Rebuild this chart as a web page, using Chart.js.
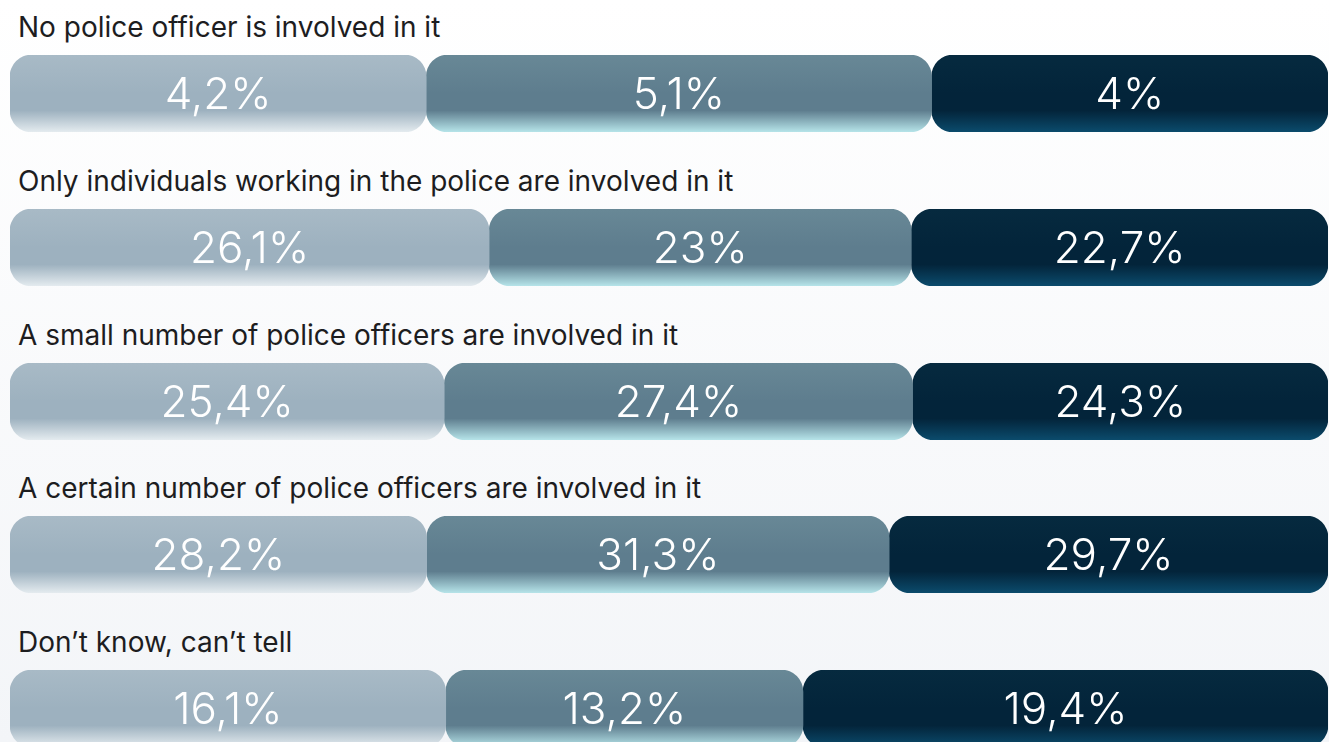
<!DOCTYPE html>
<html>
<head>
<meta charset="utf-8">
<script src="https://cdn.jsdelivr.net/npm/chart.js@4/dist/chart.umd.min.js"></script>
<style>
  html, body { margin: 0; padding: 0; }
  body {
    width: 1329px; height: 742px; overflow: hidden; position: relative;
    background: linear-gradient(#ffffff, #f3f5f8);
    font-family: Inter, "Noto Sans", sans-serif;
  }
  .lbl { position: absolute; left: 18px; font-size: 28px; line-height: 30px; color: #1d1d1f; white-space: nowrap; }
  .row { position: absolute; left: 0; width: 1329px; height: 77px; }
</style>
</head>
<body>
<script>
// answers, one row each
var categories = [
  'No police officer is involved in it',
  'Only individuals working in the police are involved in it',
  'A small number of police officers are involved in it',
  'A certain number of police officers are involved in it',
  'Don\u2019t know, can\u2019t tell'
];
// three groups, values in %
var series1 = [4.2, 26.1, 25.4, 28.2, 16.1];
var series2 = [5.1, 23, 27.4, 31.3, 13.2];
var series3 = [4, 22.7, 24.3, 29.7, 19.4];

// top / middle / bottom colours of each segment
var palettes = [
  ['#a8bac6', '#9db1bf', '#e4ebef'],
  ['#688896', '#5e7d8e', '#b6e4e9'],
  ['#062a3f', '#03243a', '#0b4b6c']
];

function grad(ctx, p) {
  var area = ctx.chart.chartArea;
  if (!area) return p[1];
  var g = ctx.chart.ctx.createLinearGradient(0, area.top, 0, area.bottom);
  g.addColorStop(0, p[0]);
  g.addColorStop(0.5, p[1]);
  g.addColorStop(0.72, p[1]);
  g.addColorStop(1, p[2]);
  return g;
}

// write the value in the middle of each segment
var valueLabels = {
  id: 'valueLabels',
  afterDatasetsDraw: function (chart) {
    var c = chart.ctx;
    c.save();
    c.fillStyle = '#ffffff';
    c.font = '300 44px Inter, "Noto Sans", sans-serif';
    c.textAlign = 'center';
    c.textBaseline = 'middle';
    chart.data.datasets.forEach(function (ds, i) {
      chart.getDatasetMeta(i).data.forEach(function (el, j) {
        var txt = String(ds.data[j]).replace('.', ',') + '%';
        c.fillText(txt, (el.x + el.base) / 2, el.y + 2);
      });
    });
    c.restore();
  }
};

var rowStep = 153.8;
var allSeries = [series1, series2, series3];
var r = 22;

categories.forEach(function (cat, i) {
  var lbl = document.createElement('div');
  lbl.className = 'lbl';
  lbl.style.top = (12 + rowStep * i) + 'px';
  lbl.textContent = cat;
  document.body.appendChild(lbl);

  var wrap = document.createElement('div');
  wrap.className = 'row';
  wrap.style.top = (55 + rowStep * i) + 'px';
  var cv = document.createElement('canvas');
  wrap.appendChild(cv);
  document.body.appendChild(wrap);

  var total = series1[i] + series2[i] + series3[i];
  var datasets = allSeries.map(function (s, k) {
    return {
      data: [s[i]],
      backgroundColor: function (ctx) { return grad(ctx, palettes[k]); },
      // object form so every segment gets all four corners rounded
      borderRadius: { topLeft: r, topRight: r, bottomLeft: r, bottomRight: r },
      borderSkipped: false,
      borderWidth: 0,
      barPercentage: 1,
      categoryPercentage: 1
    };
  });

  new Chart(cv, {
    type: 'bar',
    data: { labels: [cat], datasets: datasets },
    options: {
      indexAxis: 'y',
      responsive: true,
      maintainAspectRatio: false,
      animation: false,
      layout: { padding: { left: 10, right: 1, top: 0, bottom: 0 } },
      plugins: { legend: { display: false }, tooltip: { enabled: false } },
      scales: {
        x: { display: false, stacked: true, min: 0, max: total },
        y: { display: false, stacked: true }
      }
    },
    plugins: [valueLabels]
  });
});
</script>
</body>
</html>
